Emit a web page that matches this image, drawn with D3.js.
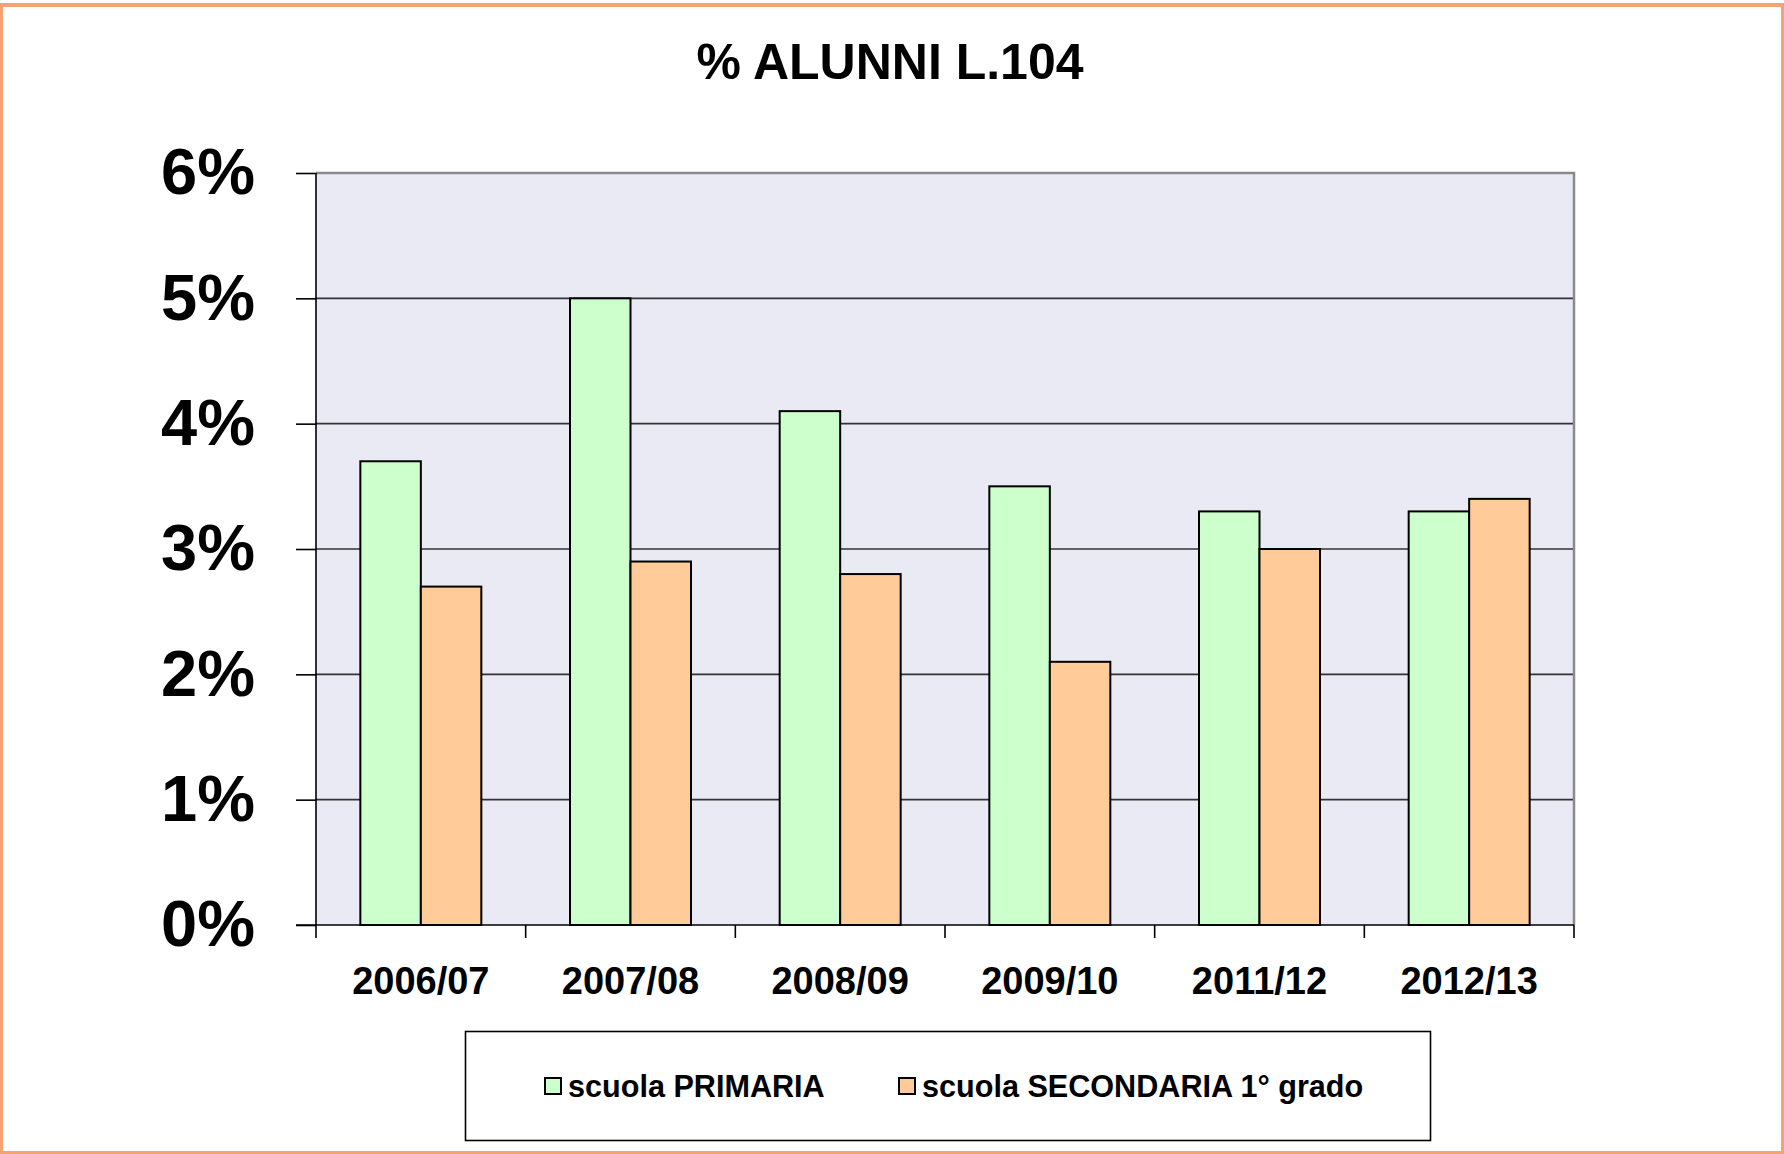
<!DOCTYPE html>
<html lang="it">
<head>
<meta charset="utf-8">
<script src="https://d3js.org/d3.v7.min.js"></script>
<style>
  body { margin: 0; background: #fff; }
  svg text { font-family: "Liberation Sans", Arial, sans-serif; font-weight: bold; fill: #000; }
</style>
</head>
<body>
<script>
// data
var anni = ["2006/07", "2007/08", "2008/09", "2009/10", "2011/12", "2012/13"];
var serie = ["scuola PRIMARIA", "scuola SECONDARIA 1° grado"];
var primaria = [3.7, 5.0, 4.1, 3.5, 3.3, 3.3];
var secondaria = [2.7, 2.9, 2.8, 2.1, 3.0, 3.4];
var yTicks = [0, 1, 2, 3, 4, 5, 6];
var colori = ["#ccffcc", "#ffcc99"];

var W = 1784, H = 1154;
var plot = {left: 316, right: 1574, top: 173, bottom: 925};

var svg = d3.select("body").append("svg")
    .attr("width", W)
    .attr("height", H);

// outer frame
svg.append("rect")
    .attr("x", 1.5).attr("y", 4.5)
    .attr("width", W - 3).attr("height", H - 6)
    .style("fill", "none")
    .style("stroke", "#f8a272")
    .style("stroke-width", 3);
svg.append("line")
    .attr("x1", 0).attr("x2", W).attr("y1", 5).attr("y2", 5)
    .style("stroke", "#f8a272").style("stroke-width", 4);

svg.append("text")
    .attr("x", 890).attr("y", 79)
    .attr("text-anchor", "middle")
    .style("font-size", "50px")
    .text("% ALUNNI L.104");

var x = d3.scaleBand()
    .domain(anni)
    .range([plot.left, plot.right]);

var x1 = d3.scaleBand()
    .domain(serie)
    .range([0, x.bandwidth()])
    .paddingOuter(0.733);

var y = d3.scaleLinear()
    .domain([0, 6])
    .range([plot.bottom, plot.top]);

// plot background
svg.append("rect")
    .attr("x", plot.left).attr("y", plot.top)
    .attr("width", plot.right - plot.left)
    .attr("height", plot.bottom - plot.top)
    .style("fill", "#eaeaf5");

// gridlines
svg.selectAll(".grid")
    .data(yTicks.slice(1, -1))
    .enter().append("line")
    .attr("x1", plot.left).attr("x2", plot.right)
    .attr("y1", function(d) { return y(d); })
    .attr("y2", function(d) { return y(d); })
    .style("stroke", "#333")
    .style("stroke-width", 1.6);

// plot top and right border
svg.append("path")
    .attr("d", "M" + plot.left + "," + plot.top + "H" + plot.right + "V" + plot.bottom)
    .style("fill", "none")
    .style("stroke", "#8a8a8a")
    .style("stroke-width", 2.5);

// bars
var rows = anni.map(function(a, i) {
    return {anno: a, valori: [primaria[i], secondaria[i]]};
});

var gruppi = svg.selectAll(".gruppo")
    .data(rows)
    .enter().append("g")
    .attr("transform", function(d) { return "translate(" + x(d.anno) + ",0)"; });

gruppi.selectAll("rect")
    .data(function(d) { return d.valori.map(function(v, k) { return {s: serie[k], v: v, k: k}; }); })
    .enter().append("rect")
    .attr("x", function(d) { return x1(d.s); })
    .attr("width", x1.bandwidth())
    .attr("y", function(d) { return y(d.v); })
    .attr("height", function(d) { return y(0) - y(d.v); })
    .style("fill", function(d) { return colori[d.k]; })
    .style("stroke", "#000")
    .style("stroke-width", 2);

// y axis
var yAxis = svg.append("g")
    .attr("transform", "translate(" + plot.left + ",0)")
    .call(d3.axisLeft(y)
        .tickValues(yTicks)
        .tickSize(20)
        .tickPadding(41)
        .tickFormat(function(d) { return d + "%"; }));
yAxis.selectAll("text").style("font-size", "65px").style("font-family", null);
yAxis.selectAll("line, path").style("stroke", "#000").style("stroke-width", 1.6);
yAxis.select(".domain").attr("d", "M0," + plot.top + "V" + plot.bottom);

// x axis: ticks on band edges, labels centred
var xAxis = svg.append("g")
    .attr("transform", "translate(0," + plot.bottom + ")");
xAxis.append("line")
    .attr("x1", plot.left - 20).attr("x2", plot.right)
    .style("stroke", "#000").style("stroke-width", 1.6);
xAxis.selectAll(".tick")
    .data(anni.concat(["fine"]))
    .enter().append("line")
    .attr("x1", function(d, i) { return plot.left + i * x.step(); })
    .attr("x2", function(d, i) { return plot.left + i * x.step(); })
    .attr("y1", 0).attr("y2", 13)
    .style("stroke", "#000").style("stroke-width", 1.6);
xAxis.selectAll(".lab")
    .data(anni)
    .enter().append("text")
    .attr("x", function(d) { return x(d) + x.bandwidth() / 2; })
    .attr("y", 69)
    .attr("text-anchor", "middle")
    .style("font-size", "38px")
    .text(function(d) { return d; });

// legend
var legend = svg.append("g");
legend.append("rect")
    .attr("x", 465.5).attr("y", 1031.5)
    .attr("width", 965).attr("height", 109)
    .style("fill", "#fff")
    .style("stroke", "#000")
    .style("stroke-width", 1.6);

var legX = [545, 899];
var voci = legend.selectAll(".voce")
    .data(serie)
    .enter().append("g")
    .attr("transform", function(d, i) { return "translate(" + legX[i] + ",1078)"; });
voci.append("rect")
    .attr("width", 16).attr("height", 16)
    .style("fill", function(d, i) { return colori[i]; })
    .style("stroke", "#000")
    .style("stroke-width", 2);
voci.append("text")
    .attr("x", 23).attr("y", 19)
    .style("font-size", "30.6px")
    .text(function(d) { return d; });
</script>
</body>
</html>
